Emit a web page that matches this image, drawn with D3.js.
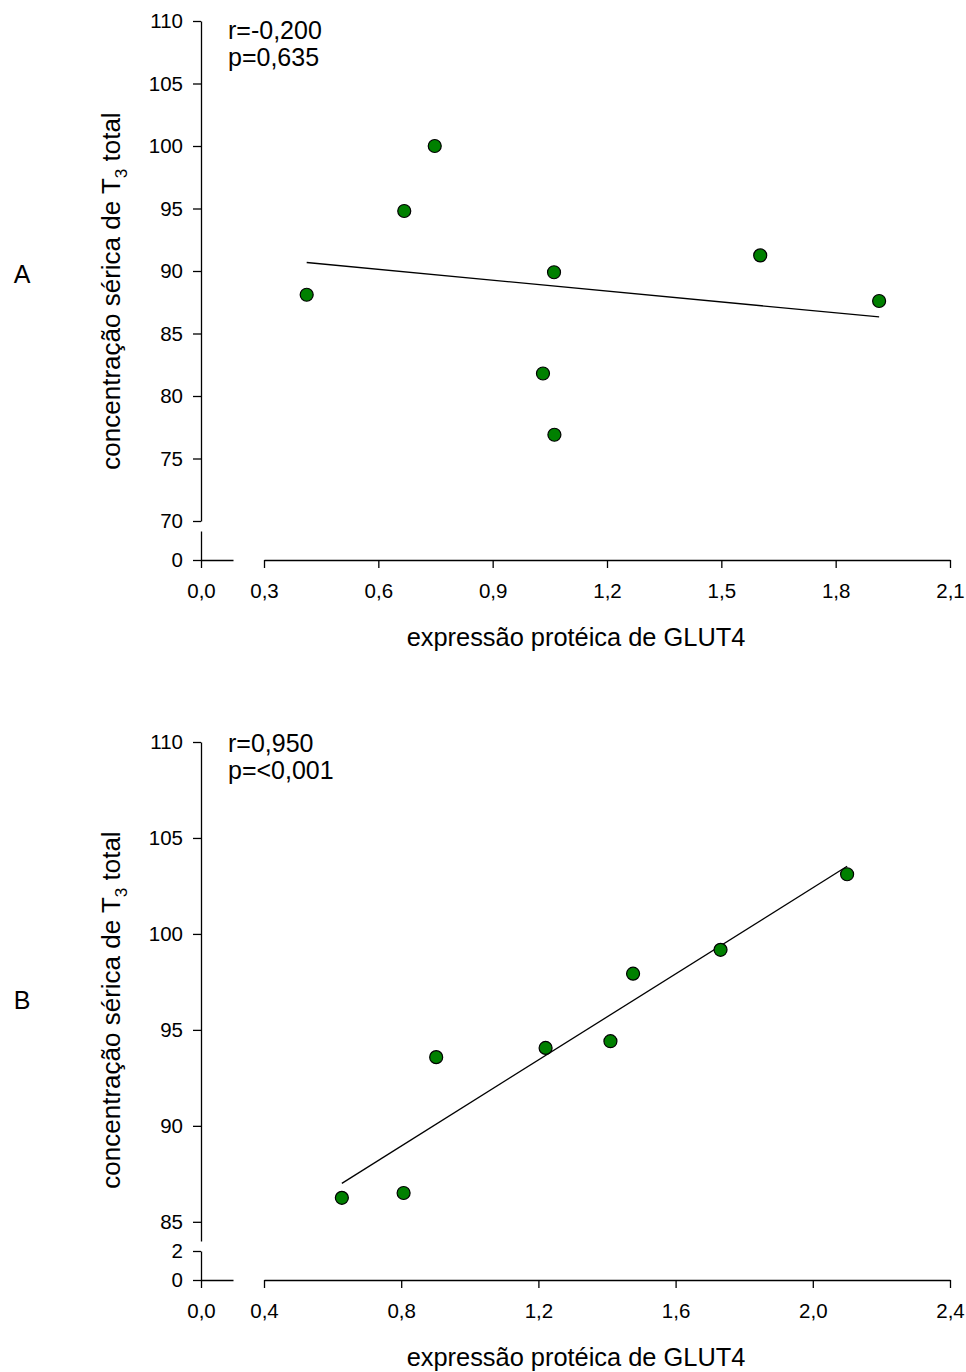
<!DOCTYPE html>
<html>
<head>
<meta charset="utf-8">
<script src="https://cdn.jsdelivr.net/npm/d3@7"></script>
<style>
  body { margin: 0; background: #fff; }
  svg text { font-family: "Liberation Sans", Arial, sans-serif; fill: #000; }
</style>
</head>
<body>
<div id="chart"></div>
<script>
// panel A data (GLUT4 expression vs T3)
const glutA = [0.412, 0.668, 0.748, 1.061, 1.032, 1.062, 1.602, 1.914];
const t3A = [88.1, 94.8, 100.0, 89.9, 81.8, 76.9, 91.25, 87.6];
const yTicksA = [70, 75, 80, 85, 90, 95, 100, 105, 110];
const xTicksA = [0.3, 0.6, 0.9, 1.2, 1.5, 1.8, 2.1];
const statsA = ["r=-0,200", "p=0,635"];

// panel B data
const glutB = [0.627, 0.807, 0.902, 1.221, 1.410, 1.476, 1.731, 2.100];
const t3B = [86.25, 86.5, 93.58, 94.06, 94.41, 97.93, 99.17, 103.11];
const yTicksB = [85, 90, 95, 100, 105, 110];
const xTicksB = [0.4, 0.8, 1.2, 1.6, 2.0, 2.4];
const statsB = ["r=0,950", "p=<0,001"];

const W = 966, H = 1372;
const fmt1 = d => d3.format(".1f")(d).replace(".", ",");

const svg = d3.select("#chart").append("svg")
    .attr("width", W)
    .attr("height", H);

function styleAxis(g, size) {
    g.attr("font-family", null).attr("font-size", null);
    g.selectAll("path, line").attr("stroke", "#000").attr("stroke-width", 1.3);
    g.selectAll("text").style("font-size", size + "px");
}

function drawPanel(o) {
    const ax = 201; // left axis position

    const x = d3.scaleLinear().domain(o.xDomain).range([264, 950]);
    const y = d3.scaleLinear().domain(o.yDomain).range([o.yBottom, o.yTop]);
    // broken (lower) parts of the axes
    const yLow = d3.scaleLinear().domain([0, 2]).range([o.zeroY, o.zeroY - 29]);
    const xLow = d3.scaleLinear().domain([0, 0.1]).range([ax, ax + 32]);

    // main y axis
    svg.append("g")
        .attr("transform", `translate(${ax},0)`)
        .call(d3.axisLeft(y).tickValues(o.yTicks).tickSize(8).tickSizeOuter(0).tickPadding(10))
        .call(g => styleAxis(g, 20.5));

    // lower y segment
    svg.append("g")
        .attr("transform", `translate(${ax},0)`)
        .call(d3.axisLeft(yLow).tickValues(o.yLowTicks).tickSize(8).tickSizeOuter(0).tickPadding(10).tickFormat(d3.format("d")))
        .call(g => styleAxis(g, 20.5));

    // main x axis
    svg.append("g")
        .attr("transform", `translate(0,${o.zeroY})`)
        .call(d3.axisBottom(x).tickValues(o.xTicks).tickSize(8).tickSizeOuter(0).tickPadding(15).tickFormat(fmt1))
        .call(g => styleAxis(g, 20.5));

    // lower x segment (0,0)
    svg.append("g")
        .attr("transform", `translate(0,${o.zeroY})`)
        .call(d3.axisBottom(xLow).tickValues([0]).tickSize(8).tickSizeOuter(0).tickPadding(15).tickFormat(fmt1))
        .call(g => styleAxis(g, 20.5));

    // regression line
    const pts = o.xs.map((v, i) => [v, o.ys[i]]);
    const mx = d3.mean(o.xs), my = d3.mean(o.ys);
    const slope = d3.sum(pts, p => (p[0] - mx) * (p[1] - my)) / d3.sum(pts, p => (p[0] - mx) ** 2);
    const x0 = d3.min(o.xs), x1 = d3.max(o.xs);
    svg.append("line")
        .attr("x1", x(x0)).attr("y1", y(my + slope * (x0 - mx)))
        .attr("x2", x(x1)).attr("y2", y(my + slope * (x1 - mx)))
        .attr("stroke", "#000")
        .attr("stroke-width", 1.3);

    // points
    svg.append("g").selectAll("circle")
        .data(pts)
        .join("circle")
        .attr("cx", d => x(d[0]))
        .attr("cy", d => y(d[1]))
        .attr("r", 6.5)
        .attr("fill", "#008000")
        .attr("stroke", "#000")
        .attr("stroke-width", 1.2);

    // r / p text
    svg.append("g").selectAll("text")
        .data(o.stats)
        .join("text")
        .attr("x", 228)
        .attr("y", (d, i) => o.statsY + i * 27)
        .style("font-size", "25px")
        .text(d => d);

    // axis titles
    svg.append("text")
        .attr("x", 576)
        .attr("y", o.xTitleY)
        .attr("text-anchor", "middle")
        .style("font-size", "25.4px")
        .text("expressão protéica de GLUT4");

    const yt = svg.append("text")
        .attr("transform", `translate(120,${o.yTitleY}) rotate(-90)`)
        .attr("text-anchor", "middle")
        .style("font-size", "26px");
    yt.append("tspan").text("concentração sérica de T");
    yt.append("tspan").attr("dy", 7).style("font-size", "17px").text("3");
    yt.append("tspan").attr("dy", -7).text(" total");

    // panel letter
    svg.append("text")
        .attr("x", 22)
        .attr("y", o.letterY)
        .attr("text-anchor", "middle")
        .style("font-size", "25px")
        .text(o.letter);
}

drawPanel({
    letter: "A", letterY: 283,
    xs: glutA, ys: t3A,
    xDomain: [0.3, 2.1], yDomain: [70, 110],
    yTop: 21, yBottom: 521, zeroY: 560,
    yTicks: yTicksA, yLowTicks: [0], xTicks: xTicksA,
    stats: statsA, statsY: 39,
    xTitleY: 646, yTitleY: 291
});

drawPanel({
    letter: "B", letterY: 1009,
    xs: glutB, ys: t3B,
    xDomain: [0.4, 2.4], yDomain: [84, 110],
    yTop: 742, yBottom: 1241, zeroY: 1280,
    yTicks: yTicksB, yLowTicks: [0, 2], xTicks: xTicksB,
    stats: statsB, statsY: 752,
    xTitleY: 1366, yTitleY: 1010
});
</script>
</body>
</html>
